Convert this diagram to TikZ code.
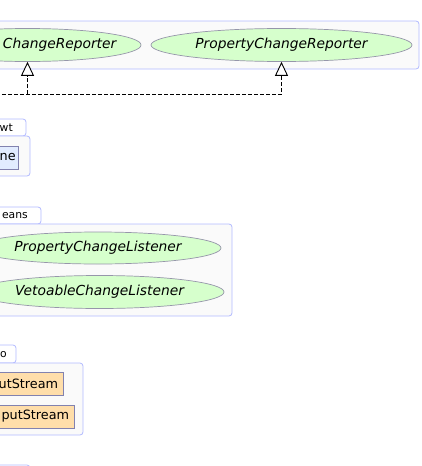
\documentclass[tikz,border=0pt]{standalone}
\usepackage{fontspec}
\setmainfont{DejaVu Sans}
\usetikzlibrary{arrows.meta, positioning, shapes.geometric}
\definecolor{pkgline}{RGB}{178,186,255}
\definecolor{pkgfill}{RGB}{250,250,250}
\definecolor{ifacefill}{RGB}{214,255,204}
\definecolor{ifaceline}{RGB}{150,150,170}
\definecolor{clsfill}{RGB}{226,236,255}
\definecolor{clsline}{RGB}{130,130,175}
\definecolor{streamfill}{RGB}{255,222,170}

\begin{document}
\begin{tikzpicture}[x=1pt, y=-1pt,
    pkg/.style={draw=pkgline, fill=pkgfill, rounded corners=3pt, line width=0.8pt},
    tab/.style={draw=pkgline, fill=white, rounded corners=3pt, line width=0.8pt},
    tablabel/.style={font=\fontsize{10.8}{12}\selectfont, anchor=east, inner sep=0pt},
    iface/.style={ellipse, draw=ifaceline, fill=ifacefill, line width=0.7pt, inner sep=0pt,
        font=\fontsize{13.8}{16}\selectfont\itshape},
    ifacename/.style={font=\fontsize{13.8}{16}\selectfont\itshape, anchor=east, inner sep=0pt},
    cls/.style={rectangle, draw=clsline, fill=clsfill, line width=0.7pt, anchor=east,
        inner xsep=5.5pt, minimum height=23pt, text width=80pt, align=right,
        font=\fontsize{12.8}{15}\selectfont},
    realize/.style={dash pattern=on 4pt off 2pt, line width=0.9pt,
        -{Triangle[length=14pt, width=13pt, fill=white]}}
]
    \useasboundingbox (0,0) rectangle (422,466);
    \clip (0,0) rectangle (422,466);

    % reporters
    \draw[pkg] (-10,21) rectangle (419,69);
    \node[iface, minimum width=227pt, minimum height=33pt] (vcr) at (27.5,45) {};
    \node[ifacename] (vcrname) at (116.5,45) {ChangeReporter};
    \node[iface, minimum width=261pt, minimum height=33pt] (pcr) at (281.5,45) {PropertyChangeReporter};
    \coordinate (impl) at (-10,94);
    \draw[realize] (impl) -| (pcr.south);
    \draw[realize] (vcr.south |- impl) -- (vcr.south);

    % awt
    \draw[tab] (-10,119) rectangle (26,136);
    \draw[pkg] (-10,136) rectangle (30,176);
    \node[tablabel] (awtname) at (13,127.5) {wt};
    \node[cls, inner xsep=3pt] (frame) at (19,157.5) {ne};

    % beans
    \draw[tab] (-10,207) rectangle (41,224);
    \draw[pkg] (-10,224) rectangle (232,316);
    \node[tablabel] (beansname) at (28,215.5) {eans};
    \node[iface, minimum width=246pt, minimum height=32pt] (pcl) at (98,248) {PropertyChangeListener};
    \node[iface, minimum width=249pt, minimum height=33pt] (vcl) at (99.5,292) {VetoableChangeListener};

    % io
    \draw[tab] (-10,345) rectangle (16,363);
    \draw[pkg] (-10,363) rectangle (83,435);
    \node[tablabel] (ioname) at (7,355) {o};
    \node[cls, fill=streamfill] (instream) at (64,383.5) {utStream};
    \node[cls, fill=streamfill] (outstream) at (75,416.5) {putStream};

    \draw[tab] (-10,465) rectangle (30,480);
\end{tikzpicture}
\end{document}
